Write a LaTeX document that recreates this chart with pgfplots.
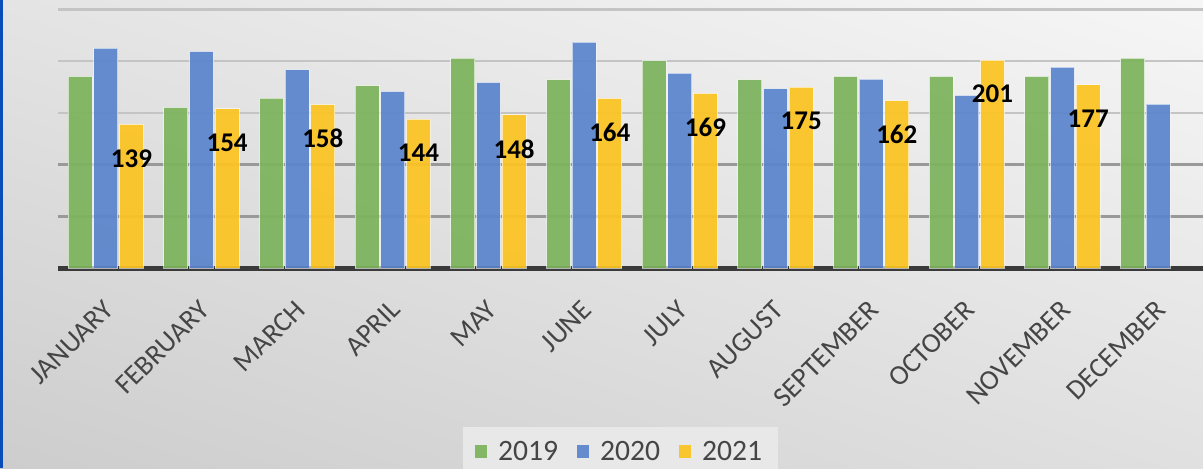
\documentclass[border=0pt]{standalone}
\usepackage{pgfplots}
\pgfplotsset{compat=1.18}
\usetikzlibrary{shadings}
\usepackage{fontspec}
\setmainfont{Carlito}
\definecolor{c19}{HTML}{7CB35C}
\definecolor{c20}{HTML}{5B85CC}
\definecolor{c21}{HTML}{FCC422}
\definecolor{bgTL}{HTML}{E4E4E4}
\definecolor{bgTR}{HTML}{F6F6F6}
\definecolor{bgBL}{HTML}{CDCDCD}
\definecolor{bgBR}{HTML}{E0E0E0}
\definecolor{leftblue}{HTML}{0A4DB8}
\definecolor{legbg}{HTML}{E8E8E8}
\definecolor{txt}{HTML}{454545}
\definecolor{gridA}{HTML}{C4C4C4}
\definecolor{gridB}{HTML}{999999}
\definecolor{basec}{HTML}{3A3A3A}
\begin{document}
\begin{tikzpicture}
\useasboundingbox (0,0) rectangle (601.5pt,234pt);
\clip (0,0) rectangle (601.5pt,234pt);
\shade[upper left=bgTL, upper right=bgTR, lower left=bgBL, lower right=bgBR] (0,0) rectangle (601.5pt,234pt);
\fill[leftblue] (0,0) rectangle (1.5pt,234pt);
\begin{axis}[
  at={(29pt,100pt)}, anchor=south west,
  scale only axis, width=574pt, height=134pt,
  xmin=-0.5, xmax=11.5, ymin=0, ymax=259.2,
  /pgf/number format/assume math mode=true,
  ybar, bar width=0.25,
  axis x line*=bottom, axis y line*=left,
  x axis line style={draw=basec, line width=2.5pt, -},
  y axis line style={draw=none},
  xtick={0,...,11},
  xticklabels={JANUARY,FEBRUARY,MARCH,APRIL,MAY,JUNE,JULY,AUGUST,SEPTEMBER,OCTOBER,NOVEMBER,DECEMBER},
  xticklabel style={rotate=45, anchor=north east, inner sep=0pt, yshift=-9.5pt, xshift=-12pt, font=\fontsize{14}{15}\selectfont, text=txt},
  major tick length=0pt,
  ytick={150,200,250}, yticklabels={},
  ymajorgrids, major grid style={draw=gridA, line width=1.2pt},
  extra y ticks={50,100}, extra y tick labels={},
  extra y tick style={grid=major, major grid style={draw=gridB, line width=1.2pt}},
  legend style={at={(0.49,-0.593)}, anchor=north, legend columns=3, draw=none, fill=legbg,
    font=\fontsize{14.8}{16}\selectfont, text=txt, inner xsep=6pt, inner ysep=5pt,
    /tikz/every odd column/.append style={column sep=3.5pt},
    /tikz/every even column/.append style={column sep=7.5pt}},
  legend image code/.code={\fill[#1, draw=none] (0pt,-3pt) rectangle (6pt,3.5pt);},
  every axis plot/.append style={fill opacity=0.93, draw opacity=0.6, line width=0.5pt},
]
\addplot[fill=c19, draw=white, bar shift=-0.268] coordinates {
 (0,185.4) (1,155.4) (2,164.4) (3,176.3) (4,203) (5,182.2) (6,200.5) (7,182.2) (8,185.4) (9,185.4) (10,185.4) (11,203)};
\addplot[fill=c20, draw=white, bar shift=0] coordinates {
 (0,212.7) (1,209.5) (2,191.8) (3,170.8) (4,179.6) (5,218.5) (6,188.6) (7,173.5) (8,182.8) (9,167) (10,194.4) (11,158.6)};
\addplot[fill=c21, draw=white, bar shift=0.268, nodes near coords,
  nodes near coords style={font=\bfseries\fontsize{13.5}{14}\selectfont, text=black, text opacity=1, anchor=center, yshift=-17pt}] coordinates {
 (0,139) (1,154) (2,158) (3,144) (4,148) (5,164) (6,169) (7,175) (8,162) (9,201) (10,177)};
\legend{2019,2020,2021}
\end{axis}
\end{tikzpicture}
\end{document}
